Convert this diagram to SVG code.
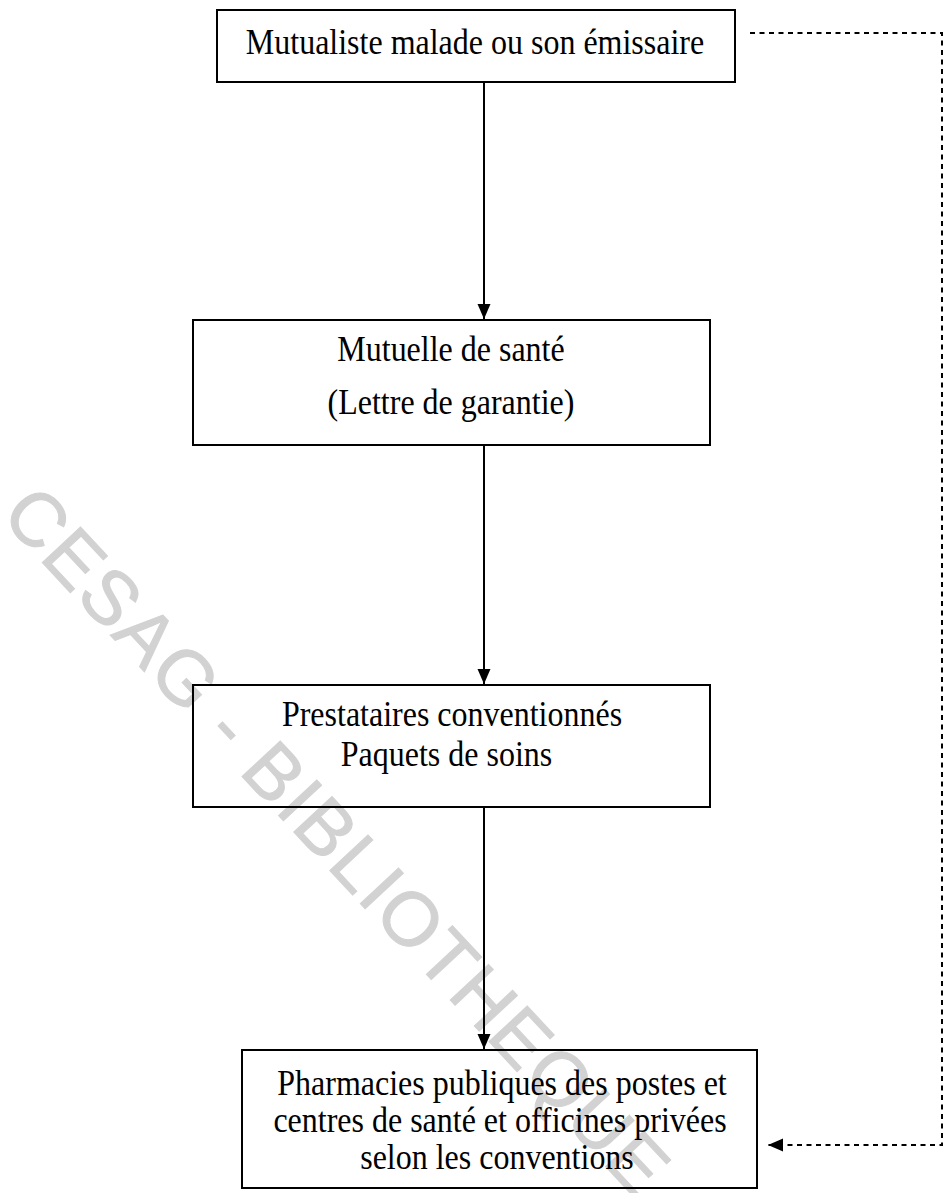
<svg xmlns="http://www.w3.org/2000/svg" width="945" height="1193" viewBox="0 0 945 1193">
<style>
.box{fill:none;stroke:#000;stroke-width:2}
.t{font-family:"Liberation Serif","Times New Roman",serif;font-size:32px;fill:#000;text-anchor:middle}
.wm{font-family:"Liberation Sans",Arial,sans-serif;font-size:76px;fill:#d2d2d2;stroke:#d2d2d2;stroke-width:1;letter-spacing:2px;text-anchor:middle}
.conn{fill:none;stroke:#000;stroke-width:2}
.dash{fill:none;stroke:#000;stroke-width:2;stroke-dasharray:5 4.5}
</style>
<defs>
<marker id="ah" markerUnits="userSpaceOnUse" markerWidth="16" markerHeight="14" refX="15" refY="6.5" orient="auto">
<path d="M0,0 L15,6.5 L0,13 Z" fill="#000"/>
</marker>
</defs>
<rect width="945" height="1193" fill="#fff"/>
<g id="watermark">
<text class="wm" transform="translate(338,840) rotate(47)" x="0" y="27">CESAG - BIBLIOTHEQUE</text>
</g>
<g id="connectors">
<line class="conn" x1="484" y1="82" x2="484" y2="319" marker-end="url(#ah)"/>
<line class="conn" x1="484" y1="445" x2="484" y2="684" marker-end="url(#ah)"/>
<line class="conn" x1="484" y1="807" x2="484" y2="1049" marker-end="url(#ah)"/>
<path class="dash" d="M750,33 H942 V1145 H768" marker-end="url(#ah)"/>
</g>
<g id="node-mutualiste">
<rect class="box" x="217" y="10" width="518" height="72"/>
<text class="t" transform="translate(475,54) scale(1,1.15)">Mutualiste malade ou son émissaire</text>
</g>
<g id="node-mutuelle">
<rect class="box" x="193" y="320" width="517" height="125"/>
<text class="t" transform="translate(451,361) scale(1,1.15)">Mutuelle de santé</text>
<text class="t" transform="translate(451,414) scale(1,1.15)">(Lettre de garantie)</text>
</g>
<g id="node-prestataires">
<rect class="box" x="193" y="685" width="517" height="122"/>
<text class="t" transform="translate(452,726) scale(1,1.15)">Prestataires conventionnés</text>
<text class="t" transform="translate(446.5,766) scale(1,1.15)">Paquets de soins</text>
</g>
<g id="node-pharmacies">
<rect class="box" x="242" y="1050" width="515" height="138"/>
<text class="t" transform="translate(502,1095) scale(1,1.15)">Pharmacies publiques des postes et</text>
<text class="t" transform="translate(500,1132) scale(1,1.15)">centres de santé et officines privées</text>
<text class="t" transform="translate(497,1169) scale(1,1.15)">selon les conventions</text>
</g>
</svg>
